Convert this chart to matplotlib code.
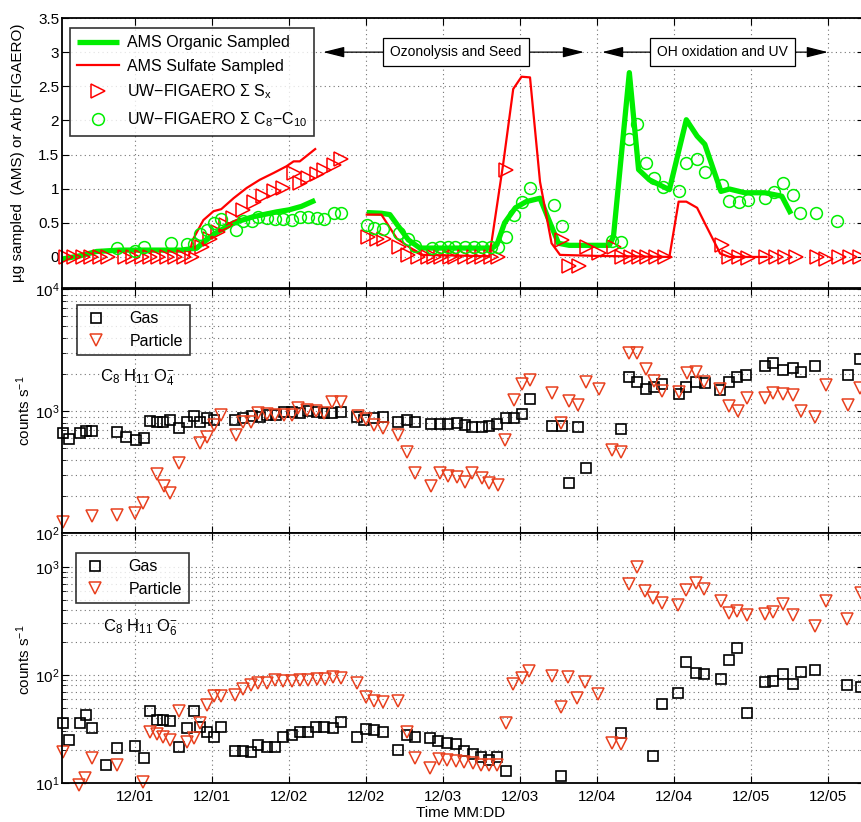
import numpy as np
import matplotlib
matplotlib.use("Agg")
import matplotlib.pyplot as plt
from matplotlib.ticker import LogLocator, NullFormatter, FixedLocator

plt.rcParams['font.family'] = ['Liberation Sans', 'DejaVu Sans']
plt.rcParams['mathtext.fontset'] = 'custom'
plt.rcParams['mathtext.rm'] = 'Liberation Sans'
plt.rcParams['mathtext.it'] = 'Liberation Sans'
plt.rcParams['mathtext.bf'] = 'Liberation Sans:bold'

# ---------------- data (x in days from 12/01 00:00) ----------------
tick_pos = [0, 0.5, 1, 1.5, 2, 2.5, 3, 3.5, 4, 4.5]
tick_labels = ['12/01', '12/01', '12/02', '12/02', '12/03', '12/03',
               '12/04', '12/04', '12/05', '12/05']

# AMS organic (segments)
org1_d = [-0.47, -0.35, -0.25, -0.1, 0.1, 0.3, 0.40, 0.51, 0.64, 0.77, 0.92, 1.0, 1.08, 1.12, 1.17]
org1_v = [-0.03, 0.02, 0.08, 0.10, 0.10, 0.10, 0.13, 0.33, 0.50, 0.59, 0.66, 0.69, 0.74, 0.78, 0.83]
org2_d = [1.505, 1.60, 1.655, 1.71, 1.775, 1.85, 2.32, 2.35, 2.40, 2.47, 2.54, 2.63, 2.695, 2.75,
          2.82, 3.08, 3.107, 3.21, 3.27, 3.34, 3.47, 3.58, 3.65, 3.70, 3.805, 3.86, 3.96, 4.09,
          4.20, 4.26]
org2_v = [0.65, 0.64, 0.62, 0.45, 0.25, 0.13, 0.13, 0.18, 0.50, 0.72, 0.81, 0.86, 0.50, 0.20,
          0.17, 0.17, 0.30, 2.70, 1.28, 1.13, 0.985, 2.01, 1.77, 1.65, 0.96, 0.995, 0.94, 0.94,
          0.89, 0.63]
# AMS sulfate (segments)
sul1_d = [0.35, 0.375, 0.444, 0.51, 0.56, 0.64, 0.725, 0.81, 0.90, 0.985, 1.03, 1.07, 1.17]
sul1_v = [0.02, 0.25, 0.54, 0.67, 0.70, 0.86, 1.01, 1.13, 1.23, 1.33, 1.40, 1.40, 1.58]
sul2_d = [1.505, 1.60, 1.70, 1.79, 1.87, 2.30, 2.316, 2.39, 2.456, 2.51, 2.565, 2.63, 2.705,
          2.76, 3.0, 3.47, 3.53, 3.58, 3.65, 3.71, 3.80, 3.86, 4.1]
sul2_v = [0.62, 0.62, 0.27, 0.13, 0.03, 0.01, 0.23, 1.35, 2.46, 2.64, 2.63, 1.10, 0.20,
          0.03, 0.015, 0.0, 0.81, 0.81, 0.72, 0.45, 0.05, 0.0, 0.0]
# UW-FIGAERO sum Sx
sx_d = [-0.45, -0.395, -0.34, -0.285, -0.23, -0.175, -0.065, -0.01, 0.045, 0.10, 0.15, 0.205,
        0.26, 0.315, 0.37, 0.433, 0.49, 0.54, 0.59, 0.638, 0.70, 0.77, 0.83, 0.90, 0.96, 1.03,
        1.07, 1.125, 1.18, 1.23, 1.29, 1.34,
        1.515, 1.57, 1.62, 1.715, 1.775, 1.835, 1.90, 1.94, 1.99, 2.045, 2.08, 2.14, 2.20, 2.25,
        2.31, 2.36, 2.41, 2.775, 2.82, 2.88, 2.935, 3.015, 3.11, 3.165, 3.22, 3.275, 3.325,
        3.385, 3.44, 3.81, 3.86, 3.92, 3.98, 4.095, 4.16, 4.22, 4.29, 4.43, 4.49, 4.57, 4.64, 4.71]
sx_v = [0, 0, 0, 0, 0, 0, 0, 0, 0, 0, 0, 0,
        0, 0, 0, 0.14, 0.27, 0.37, 0.47, 0.57, 0.69, 0.81, 0.89, 0.96, 1.01, 1.23,
        1.09, 1.16, 1.21, 1.28, 1.35, 1.43,
        0.29, 0.26, 0.27, 0.15, 0.03, 0.0, 0.0, 0, 0, 0, 0, 0, 0, 0,
        0, 0, 1.28, 0.25, -0.13, -0.13, 0.15, 0.055, 0.14, 0, 0, 0, 0,
        0, 0, 0.18, 0, 0, -0.01, 0, 0, 0, 0, 0, -0.03, 0, 0, 0]
# UW-FIGAERO sum C8-C10
c_d = [-0.12, 0.0, 0.06, 0.235, 0.335, 0.38, 0.42, 0.465, 0.51, 0.56, 0.655, 0.70, 0.76, 0.80,
       0.855, 0.91, 0.96, 1.02, 1.07, 1.125, 1.18, 1.23, 1.29, 1.34,
       1.505, 1.555, 1.61, 1.715, 1.77, 1.82, 1.93, 1.98, 2.03, 2.08, 2.14, 2.20, 2.25, 2.31,
       2.36, 2.41, 2.46, 2.51, 2.565, 2.72, 2.77, 3.10, 3.155, 3.21, 3.26, 3.32, 3.37, 3.43,
       3.53, 3.58, 3.65, 3.70, 3.81, 3.86, 3.92, 3.98, 4.09, 4.15, 4.21, 4.27, 4.32, 4.42, 4.56]
c_v = [0.13, 0.09, 0.15, 0.21, 0.19, 0.19, 0.34, 0.40, 0.49, 0.55, 0.39, 0.52, 0.52, 0.58,
       0.57, 0.56, 0.55, 0.54, 0.59, 0.58, 0.57, 0.56, 0.64, 0.64,
       0.47, 0.42, 0.41, 0.35, 0.26, 0.16, 0.13, 0.14, 0.14, 0.14, 0.14, 0.14, 0.14, 0.14,
       0.14, 0.29, 0.62, 0.81, 1.01, 0.76, 0.46, 0.24, 0.22, 1.73, 1.95, 1.38, 1.16, 1.02,
       0.97, 1.38, 1.44, 1.25, 1.05, 0.82, 0.80, 0.83, 0.86, 0.95, 1.08, 0.90, 0.64, 0.65, 0.52]

# C8H11O4- gas / particle
g4_d = [-0.47, -0.43, -0.36, -0.32, -0.28, -0.12, -0.06, 0.005, 0.06, 0.10, 0.145, 0.185, 0.23,
        0.285, 0.335, 0.38, 0.42, 0.465, 0.515, 0.65, 0.70, 0.76, 0.81, 0.86, 0.915, 0.97, 1.02,
        1.07, 1.125, 1.18, 1.23, 1.28, 1.34, 1.44, 1.49, 1.55, 1.61, 1.71, 1.765, 1.82, 1.92,
        1.98, 2.03, 2.09, 2.14, 2.19, 2.25, 2.30, 2.35, 2.41, 2.46, 2.51, 2.565, 2.71, 2.77,
        2.875, 2.82, 2.93, 3.155, 3.21, 3.26, 3.32, 3.37, 3.42, 3.53, 3.58, 3.64, 3.70, 3.80,
        3.86, 3.91, 3.97, 4.09, 4.145, 4.21, 4.27, 4.325, 4.415, 4.63, 4.71]
g4_v = [656, 589, 664, 692, 686, 668, 617, 578, 600, 835, 815, 815, 843,
        727, 810, 912, 818, 875, 850, 843, 875, 910, 893, 920, 927, 975, 975,
        957, 995, 985, 965, 957, 978, 885, 845, 875, 897, 820, 838, 820, 785,
        778, 778, 790, 767, 743, 743, 755, 778, 881, 881, 944, 1262, 755, 755,
        735, 259, 341, 710, 1909, 1729, 1514, 1585, 1660, 1385, 1585, 1729, 1700, 1490,
        1729, 1909, 1972, 2350, 2454, 2168, 2238, 2099, 2350, 1972, 2667]
p4_d = [-0.47, -0.28, -0.12, 0.0, 0.055, 0.14, 0.19, 0.23, 0.285, 0.42, 0.465, 0.51, 0.56,
        0.655, 0.70, 0.75, 0.80, 0.855, 0.91, 0.965, 1.02, 1.06, 1.115, 1.175, 1.23, 1.28, 1.34,
        1.445, 1.50, 1.555, 1.61, 1.71, 1.765, 1.82, 1.925, 1.98, 2.035, 2.09, 2.14, 2.19, 2.25,
        2.30, 2.355, 2.40, 2.46, 2.51, 2.565, 2.71, 2.766, 2.82, 2.875, 2.927, 3.01, 3.10, 3.155,
        3.21, 3.26, 3.316, 3.37, 3.425, 3.53, 3.582, 3.64, 3.695, 3.80, 3.857, 3.913, 3.972,
        4.09, 4.145, 4.21, 4.27, 4.325, 4.415, 4.488, 4.628, 4.71]
p4_v = [124, 138, 141, 145, 175, 306, 241, 212, 372, 547, 612, 767, 920,
        635, 812, 817, 962, 942, 920, 920, 927, 1060, 1024, 995, 957, 1175, 1180,
        905, 856, 767, 721, 635, 464, 308, 241, 308, 293, 290, 263, 312, 281,
        259, 247, 578, 1232, 1664, 1794, 1413, 792, 1208, 1120, 1738, 1514, 479, 464,
        3006, 3006, 2198, 1770, 1466, 1422, 2038, 2099, 1738, 1514, 1092, 1000, 1285,
        1285, 1396, 1377, 1349, 1000, 887, 1633, 1120, 1536]

# C8H11O6- gas / particle
g6_d = [-0.47, -0.43, -0.36, -0.32, -0.28, -0.19, -0.12, 0.0, 0.06, 0.10, 0.145, 0.185, 0.23,
        0.285, 0.335, 0.38, 0.42, 0.465, 0.51, 0.556, 0.65, 0.70, 0.75, 0.80, 0.855, 0.91,
        0.963, 1.017, 1.071, 1.125, 1.175, 1.227, 1.284, 1.336, 1.444, 1.50, 1.55, 1.609, 1.71,
        1.765, 1.818, 1.916, 1.97, 2.028, 2.085, 2.138, 2.193, 2.245, 2.30, 2.353, 2.407, 2.764,
        3.154, 3.366, 3.42, 3.524, 3.578, 3.64, 3.695, 3.803, 3.857, 3.911, 3.972, 4.09, 4.145,
        4.21, 4.27, 4.325, 4.415, 4.621, 4.714]
g6_v = [36, 25, 36, 43, 32, 14.7, 21, 22, 17.1, 46, 38, 38, 37.7,
        21.4, 32, 46, 33, 29.9, 26.8, 33, 19.8, 19.8, 19.5, 22.5, 21.7, 21.4,
        26.5, 27.8, 29.9, 29.9, 32.7, 33, 32, 37, 26.8, 31.4, 30.9, 29.9, 20.2,
        27.8, 26.8, 25.9, 24.7, 23.3, 23, 19.8, 18.4, 17.3, 16.3, 17.5, 13, 11.6,
        28.8, 17.8, 53.8, 68.5, 133, 104, 102, 92, 138, 177, 44.8, 85.5, 88.5,
        102, 82.6, 107, 111, 80.7, 78]
p6_d = [-0.47, -0.364, -0.325, -0.28, -0.12, 0.05, 0.10, 0.145, 0.185, 0.23, 0.285, 0.335, 0.38,
        0.42, 0.465, 0.51, 0.556, 0.65, 0.70, 0.75, 0.80, 0.855, 0.91, 0.963, 1.017, 1.071,
        1.125, 1.18, 1.234, 1.284, 1.336, 1.444, 1.50, 1.552, 1.609, 1.71, 1.765, 1.818, 1.916,
        1.976, 2.028, 2.085, 2.138, 2.193, 2.245, 2.30, 2.353, 2.407, 2.457, 2.511, 2.56, 2.71,
        2.764, 2.814, 2.868, 2.922, 3.004, 3.095, 3.154, 3.208, 3.258, 3.312, 3.362, 3.42,
        3.524, 3.578, 3.641, 3.695, 3.803, 3.857, 3.911, 3.972, 4.09, 4.145, 4.21, 4.27, 4.415,
        4.484, 4.621, 4.712]
p6_v = [19.5, 9.5, 11.1, 16.9, 14.7, 10.2, 29.9, 28.4, 26.8, 25, 46, 24.2, 25.9,
        35.7, 52.7, 64.3, 64.3, 65.3, 73.8, 80.7, 83.7, 83.7, 90, 88.5, 88.5, 90,
        90, 92, 92, 96.4, 93, 83.7, 63, 57.8, 56.5, 57.8, 29.9, 16.9, 13.8,
        16.6, 16.3, 16.1, 15.7, 15.4, 14.7, 14.7, 14.7, 36, 82.6, 93, 110, 98,
        50.8, 95.3, 60.8, 86.7, 66.7, 23.6, 23, 697, 993, 600, 513, 467,
        445, 612, 707, 622, 488, 377, 392, 360, 367, 385, 454, 360, 286,
        484, 330, 570]

# ---------------- figure ----------------
W, H = 861, 822
fig = plt.figure(figsize=(W / 100, H / 100), dpi=100)

def fx(px):
    return px / W

def fy(py):
    return 1 - py / H

left_px, right_px = 62, 864
xlim = ((left_px - 135) / 154.0, (right_px - 135) / 154.0)

ax1 = fig.add_axes([fx(left_px), fy(288), fx(right_px - left_px), (288 - 18) / H])
ax2 = fig.add_axes([fx(left_px), fy(533), fx(right_px - left_px), (533 - 289) / H])
ax3 = fig.add_axes([fx(left_px), fy(783), fx(right_px - left_px), (783 - 533) / H])

GREEN = '#00ee00'
RED = '#ff0000'
PRED = '#e8401e'
gridkw = dict(color='0.45', linestyle=(0, (1, 3)), linewidth=0.8)

for ax in (ax1, ax2, ax3):
    ax.set_xlim(*xlim)
    ax.xaxis.set_major_locator(FixedLocator(tick_pos))
    ax.tick_params(direction='in', top=True, right=True, labelsize=11, length=5, width=0.8)
    ax.tick_params(axis='y', pad=2)
    ax.tick_params(axis='x', pad=5)
    ax.tick_params(which='minor', direction='in', top=True, right=True, length=3, width=0.6)
    for s in ax.spines.values():
        s.set_linewidth(1.3)
    ax.set_axisbelow(True)

# ---- top panel ----
ax1.plot(org1_d, org1_v, color=GREEN, lw=3.8, solid_capstyle='butt', label='AMS Organic Sampled')
ax1.plot(org2_d, org2_v, color=GREEN, lw=3.8, solid_capstyle='butt')
ax1.plot(sul1_d, sul1_v, color=RED, lw=1.6, label='AMS Sulfate Sampled')
ax1.plot(sul2_d, sul2_v, color=RED, lw=1.6)
ax1.plot(sx_d, sx_v, linestyle='none', marker='>', ms=10, mfc='none', mec=RED, mew=1.1,
         label=r'UW$-$FIGAERO Σ S$_\mathrm{x}$', clip_on=False)
ax1.plot(c_d, c_v, linestyle='none', marker='o', ms=8.5, mfc='none', mec=GREEN, mew=1.1,
         label=r'UW$-$FIGAERO Σ C$_\mathrm{8}$$-$C$_\mathrm{10}$', clip_on=False)
ax1.set_ylim(-0.455, 3.5)
ax1.set_yticks([0, 0.5, 1, 1.5, 2, 2.5, 3, 3.5])
ax1.set_yticklabels(['0', '0.5', '1', '1.5', '2', '2.5', '3', '3.5'])
ax1.set_xticklabels([])
ax1.grid(True, which='major', **gridkw)
leg1 = ax1.legend(loc='upper left', bbox_to_anchor=(0.01, 0.963), borderaxespad=0,
                  fontsize=11.5, frameon=True, fancybox=False, edgecolor='black',
                  handlelength=2.6, labelspacing=0.55, borderpad=0.45, handletextpad=0.5)
leg1.get_frame().set_linewidth(1.2)

# phase annotations
arrowkw = dict(arrowstyle='-|>,head_length=1.0,head_width=0.25', color='black', lw=0.9,
               shrinkA=0, shrinkB=0, mutation_scale=13)
phases = [(2.084, 1.221, 2.916, 'Ozonolysis and Seed'),
          (3.815, 3.032, 4.50, 'OH oxidation and UV')]
for cx, lx, rx, lab in phases:
    ax1.annotate('', xy=(lx, 3.0), xytext=(cx, 3.0), arrowprops=arrowkw, zorder=4)
    ax1.annotate('', xy=(rx, 3.0), xytext=(cx, 3.0), arrowprops=arrowkw, zorder=4)
    ax1.text(cx, 3.0, lab, ha='center', va='center', fontsize=10, zorder=5,
             bbox=dict(boxstyle='square,pad=0.5', fc='white', ec='black', lw=0.9))

fig.text(fx(18), fy(153), 'µg sampled  (AMS) or Arb (FIGAERO)', rotation=90,
         ha='center', va='center', fontsize=11)

legkw = dict(loc='upper left', borderaxespad=0, fontsize=11.5, frameon=True, fancybox=False,
             edgecolor='black', handlelength=1.6, labelspacing=0.45, borderpad=0.4,
             handletextpad=1.3)

# ---- middle panel ----
ax2.set_yscale('log')
ax2.set_ylim(100, 10000)
ax2.plot(g4_d, g4_v, linestyle='none', marker='s', ms=6.5, mfc='none', mec='black', mew=1.2,
         label='Gas', clip_on=False)
ax2.plot(p4_d, p4_v, linestyle='none', marker='v', ms=9, mfc='none', mec=PRED, mew=1.1,
         label='Particle', clip_on=False)
ax2.set_xticklabels([])
ax2.grid(True, which='major', **gridkw)
ax2.yaxis.grid(True, which='minor', **gridkw)
ax2.yaxis.set_minor_locator(LogLocator(base=10, subs=np.arange(2, 10)))
ax2.yaxis.set_minor_formatter(NullFormatter())
leg2 = ax2.legend(bbox_to_anchor=(0.0187, 0.934), **legkw)
leg2.get_frame().set_linewidth(1.2)
ax2.text(0.047, 0.635, r'C$_\mathrm{8}$ H$_\mathrm{11}$ O$_\mathrm{4}^\mathrm{-}$',
         transform=ax2.transAxes, fontsize=12, va='center', ha='left')
fig.text(fx(24), fy(411), r'counts s$^{-1}$', rotation=90, ha='center', va='center', fontsize=11)

# ---- bottom panel ----
ax3.set_yscale('log')
ax3.set_ylim(10, 2065)
ax3.plot(g6_d, g6_v, linestyle='none', marker='s', ms=6.5, mfc='none', mec='black', mew=1.2,
         label='Gas', clip_on=False)
ax3.plot(p6_d, p6_v, linestyle='none', marker='v', ms=9, mfc='none', mec=PRED, mew=1.1,
         label='Particle', clip_on=False)
ax3.set_xticklabels(tick_labels)
ax3.grid(True, which='major', **gridkw)
ax3.yaxis.grid(True, which='minor', **gridkw)
ax3.yaxis.set_minor_locator(LogLocator(base=10, subs=np.arange(2, 10)))
ax3.yaxis.set_minor_formatter(NullFormatter())
leg3 = ax3.legend(bbox_to_anchor=(0.0175, 0.92), **legkw)
leg3.get_frame().set_linewidth(1.2)
ax3.text(0.051, 0.62, r'C$_\mathrm{8}$ H$_\mathrm{11}$ O$_\mathrm{6}^\mathrm{-}$',
         transform=ax3.transAxes, fontsize=12, va='center', ha='left')
fig.text(fx(24), fy(660), r'counts s$^{-1}$', rotation=90, ha='center', va='center', fontsize=11)
fig.text(fx(461), fy(813), 'Time MM:DD', ha='center', va='center', fontsize=11)

for leg in (leg1, leg2, leg3):
    leg.set_zorder(10)

fig.savefig('out.png', dpi=100)
